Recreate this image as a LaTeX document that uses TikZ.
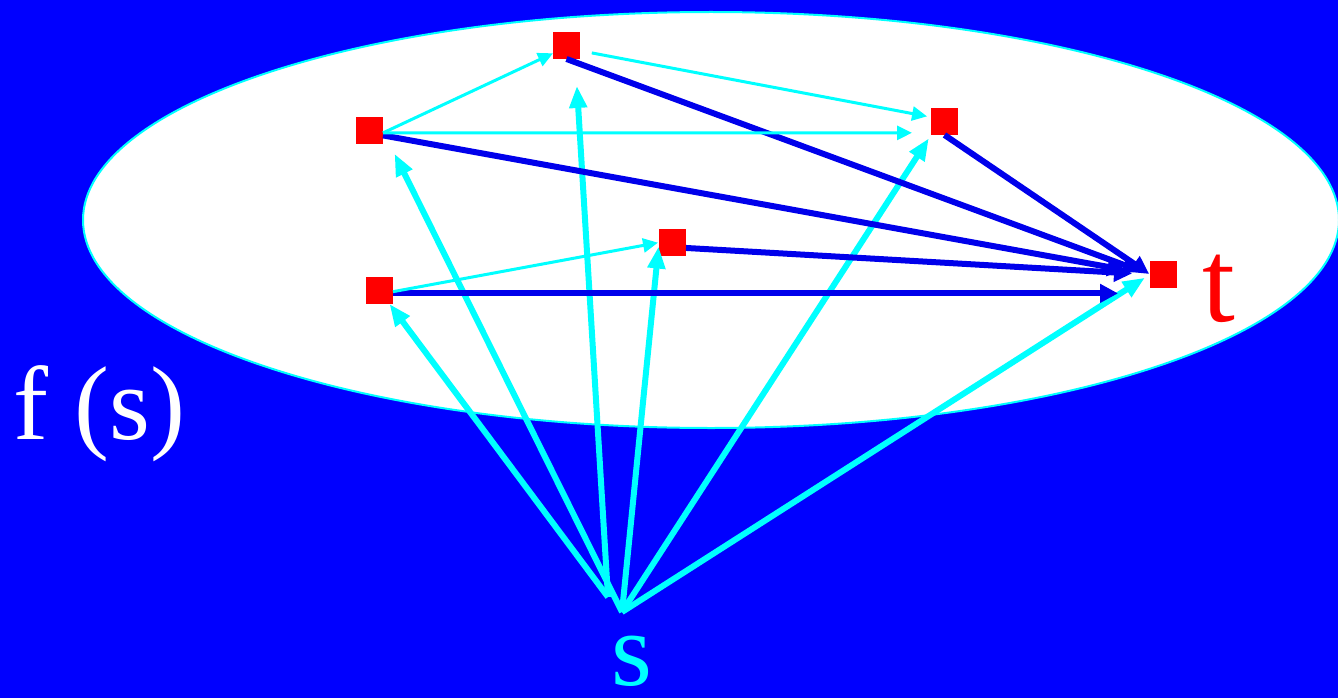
\documentclass[tikz,border=0pt]{standalone}
\usepackage{fontspec}
\setmainfont{Liberation Serif}
\usetikzlibrary{arrows.meta}
\definecolor{bgblue}{RGB}{0,0,255}
\definecolor{arcblue}{RGB}{0,0,235}
\definecolor{skyc}{RGB}{0,255,255}
\definecolor{boxred}{RGB}{255,0,0}
\begin{document}
\begin{tikzpicture}[x=1pt, y=-1pt,
  sq/.style={fill=boxred, minimum size=27pt, inner sep=0pt, outer sep=0pt},
  hop/.style={skyc, line width=3pt, -{Triangle[length=15pt, width=14pt]}},
  shot/.style={skyc, line width=6pt, -{Triangle[length=22pt, width=17pt]}},
  link/.style={arcblue, line width=6pt, -{Triangle[length=18pt, width=18pt]}},
  lab/.style={inner sep=0pt, font=\fontsize{105}{105}\selectfont}]
  \useasboundingbox (0,0) rectangle (1338,698);
  \fill[bgblue] (0,0) rectangle (1338,698);
  \draw[skyc, line width=2pt, fill=white] (711,220) ellipse [x radius=628pt, y radius=208pt];
  % the points of f(s), t among them
  \node[sq] (n1) at (566.5,45.5) {};
  \node[sq] (n2) at (369.5,130.5) {};
  \node[sq] (n3) at (944.5,121.5) {};
  \node[sq] (n4) at (672.5,242.5) {};
  \node[sq] (n5) at (379.5,290.5) {};
  \node[sq] (t) at (1163.5,274.5) {};
  \coordinate (s) at (622,612);
  \coordinate (s1) at (608,597);
  % from s
  \draw[shot] (s1) -- (n5);
  \draw[shot, shorten >=26pt] (s) -- (n2.east);
  \draw[shot, shorten >=27pt] (s1) -- (n1.-57);
  \draw[shot, shorten >=4pt] (s) -- (n4.west);
  \draw[shot, shorten >=4pt] (s) -- (n3.south west);
  \draw[shot, shorten >=6pt] (s) -- (t.west);
  % into t
  \draw[link, shorten >=10pt] (n1.south) -- (t.west);
  \draw[link, shorten >=25pt] (n2.-20) -- (t.west);
  \draw[link, shorten >=1pt] (n3.south) -- (t.west);
  \draw[link, shorten >=18pt] (n4.-22) -- (t.west);
  \draw[link, shorten >=32pt] (n5.-12) -- (n5.-12 -| t.west);
  % inside f(s)
  \draw[hop] (n2.-10) -- (n1.-150);
  \draw[hop, shorten >=19pt] (n2.-10) -- (n3.-140);
  \draw[hop, shorten <=12pt, shorten >=4pt] (n1.-21) -- (n3.162);
  \draw[hop, shorten >=1pt] (n5.-5) -- (n4.west);
  \node[lab, white, anchor=base west] (fs) at (13,439) {f (s)};
  \node[lab, skyc, anchor=base] (slab) at (632,685) {s};
  \node[lab, boxred, anchor=base, font=\fontsize{118}{118}\selectfont] (tlab) at (1219,321) {t};
\end{tikzpicture}
\end{document}
